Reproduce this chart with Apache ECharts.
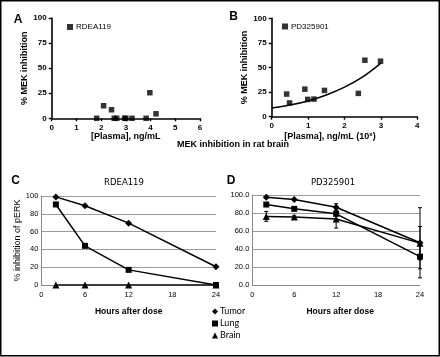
<!DOCTYPE html>
<html>
<head>
<meta charset="utf-8">
<script src="https://cdn.jsdelivr.net/npm/echarts@6/dist/echarts.min.js"></script>
<style>
html,body{margin:0;padding:0;background:#fff;}
#chart{width:440px;height:357px;}
</style>
</head>
<body>
<div id="chart"></div>
<script>
// Panel A: RDEA119 plasma concentration vs % MEK inhibition
const A_x = [1.82, 2.1, 2.42, 2.53, 2.63, 2.95, 3.0, 3.25, 3.82, 3.97, 4.22];
const A_y = [0, 12.5, 8.5, 0, 0, 0, 0, 0, 0, 25.5, 4.5];
// Panel B: PD325901 plasma concentration (log) vs % MEK inhibition
const B_x = [0.41, 0.49, 0.91, 0.99, 1.16, 1.45, 2.38, 2.56, 2.99];
const B_y = [23, 14, 28, 17.6, 17.9, 26.7, 23.7, 57.4, 56.4];
// Panel B fitted curve
const B_fit_x = [0, 0.5, 1, 1.5, 2, 2.5, 3];
const B_fit_y = [8.8, 11.8, 16, 22, 30, 40.5, 54.5];
// Panels C/D: hours after dose
const hours = [2, 6, 12, 24];
const C_tumor = [99, 89, 69.5, 20.5];
const C_lung = [90.5, 44, 17, 0];
const C_brain = [0, 0, 0, 0];
const D_tumor = [97.4, 94.9, 86.4, 46.9];
const D_lung = [89.4, 84.6, 79.1, 31.5];
const D_brain = [76.2, 75.5, 73.3, 46.5];
const D_tumor_err = [1, 1, 4, 39];
const D_lung_err = [1, 1, 2, 13.5];
const D_brain_err = [5.5, 1.5, 10, 18.5];
// tick labels
const A_xTicks = [0, 1, 2, 3, 4, 5, 6];
const AB_yTicks = [0, 25, 50, 75, 100];
const B_xTicks = [0, 1, 2, 3, 4];
const CD_xTicks = [0, 6, 12, 18, 24];
const CD_yTicks = [0, 20, 40, 60, 80, 100];

const zip = (xs, ys) => xs.map((x, i) => [x, ys[i]]);
const zip3 = (xs, ys, es) => xs.map((x, i) => [x, ys[i], es[i]]);

const chart = echarts.init(document.getElementById('chart'), null, {renderer: 'canvas'});

const AF = 'Liberation Sans, Arial, sans-serif';

function gpX(grid, min, max, ticks, name, nameGap, pad) {
  return {
    gridIndex: grid, type: 'value', min: min, max: max, interval: ticks[1] - ticks[0],
    axisLine: {show: true, onZero: false, lineStyle: {color: '#000', width: 1.6}},
    axisTick: {show: true, length: 3, lineStyle: {color: '#000', width: 1.4}},
    axisLabel: {fontFamily: AF, fontSize: 8, fontWeight: 'bold', color: '#000', margin: 5},
    splitLine: {show: false},
    name: name, nameLocation: 'middle', nameGap: nameGap,
    nameTextStyle: {fontFamily: AF, fontSize: 9, fontWeight: 'bold', color: '#000',
      verticalAlign: 'top', padding: pad || 0,
      rich: {sup: {fontFamily: AF, fontSize: 6, fontWeight: 'bold', color: '#000', verticalAlign: 'top', padding: [0, 0, 4, 0]}}}
  };
}
function gpY(grid, name) {
  return {
    gridIndex: grid, type: 'value', min: 0, max: AB_yTicks[AB_yTicks.length - 1], interval: AB_yTicks[1] - AB_yTicks[0],
    axisLine: {show: true, onZero: false, lineStyle: {color: '#000', width: 1.6}},
    axisTick: {show: true, length: 3, lineStyle: {color: '#000', width: 1.4}},
    axisLabel: {fontFamily: AF, fontSize: 8, fontWeight: 'bold', color: '#000', margin: 5},
    splitLine: {show: false},
    name: name, nameLocation: 'middle', nameGap: 22,
    nameTextStyle: {fontFamily: AF, fontSize: 9, fontWeight: 'bold', color: '#000'}
  };
}
function xlX(grid, name, pad) {
  return {
    gridIndex: grid, type: 'value', min: 0, max: CD_xTicks[CD_xTicks.length - 1], interval: CD_xTicks[1] - CD_xTicks[0],
    axisLine: {show: true, onZero: false, lineStyle: {color: '#888', width: 1}},
    axisTick: {show: false},
    axisLabel: {fontFamily: AF, fontSize: 7.5, color: '#000', margin: 6},
    splitLine: {show: false},
    name: name, nameLocation: 'middle', nameGap: 22,
    nameTextStyle: {fontFamily: AF, fontSize: 8.5, fontWeight: 'bold', color: '#000', verticalAlign: 'top', padding: pad || 0}
  };
}
function xlY(grid, name, dec) {
  return {
    gridIndex: grid, type: 'value', min: 0, max: CD_yTicks[CD_yTicks.length - 1], interval: CD_yTicks[1] - CD_yTicks[0],
    axisLine: {show: true, lineStyle: {color: '#888', width: 1}},
    axisTick: {show: false},
    axisLabel: {fontFamily: AF, fontSize: 7.5, color: '#000', margin: 3,
      formatter: v => dec ? v.toFixed(1) : String(v)},
    splitLine: {show: true, lineStyle: {color: '#9a9a9a', width: 1}},
    name: name, nameLocation: 'middle', nameGap: 16,
    nameTextStyle: {fontFamily: AF, fontSize: 9, color: '#000'}
  };
}

function lineSeries(name, xi, xs, ys, symbol, size) {
  return {
    name: name, type: 'line', xAxisIndex: xi, yAxisIndex: xi,
    data: zip(xs, ys), symbol: symbol, symbolSize: size, showSymbol: true,
    lineStyle: {color: '#000', width: 1.5}, itemStyle: {color: '#000'},
    z: 3, animation: false
  };
}
function errSeries(name, xs, ys, es) {
  return {
    name: name, type: 'custom', xAxisIndex: 3, yAxisIndex: 3,
    data: zip3(xs, ys, es), z: 2, animation: false, silent: true,
    renderItem: function (params, api) {
      const x = api.value(0), y = api.value(1), e = api.value(2);
      const hi = api.coord([x, y + e]);
      const lo = api.coord([x, y - e]);
      const w = 2;
      const st = {stroke: '#000', lineWidth: 1};
      return {type: 'group', children: [
        {type: 'line', shape: {x1: hi[0], y1: hi[1], x2: lo[0], y2: lo[1]}, style: st},
        {type: 'line', shape: {x1: hi[0] - w, y1: hi[1], x2: hi[0] + w, y2: hi[1]}, style: st},
        {type: 'line', shape: {x1: lo[0] - w, y1: lo[1], x2: lo[0] + w, y2: lo[1]}, style: st}
      ]};
    }
  };
}

const option = {
  backgroundColor: '#fff',
  animation: false,
  grid: [
    {left: 51.7, top: 18, width: 148.3, height: 100.3},
    {left: 271.7, top: 18.3, width: 145.6, height: 98.4},
    {left: 41.3, top: 196, width: 174.7, height: 89},
    {left: 252.3, top: 195, width: 167.7, height: 90}
  ],
  xAxis: [
    gpX(0, 0, 6, A_xTicks, '[Plasma], ng/mL', 14),
    gpX(1, 0, 4, B_xTicks, '[Plasma], ng/mL (10{sup|x})', 15, [0, 29, 0, 0]),
    xlX(2, 'Hours after dose'),
    xlX(3, 'Hours after dose', [0, 0, 0, 8])
  ],
  yAxis: [
    gpY(0, '% MEK inhibition'),
    gpY(1, '% MEK inhibition'),
    xlY(2, '% inhibition of pERK', false),
    xlY(3, '', true)
  ],
  legend: [
    {
      data: [{name: 'RDEA119', icon: 'rect'}], left: 67, top: 23, padding: 0,
      itemWidth: 6, itemHeight: 6, selectedMode: false,
      textStyle: {fontFamily: AF, fontSize: 8, color: '#000', padding: [0, 0, 0, -2]}
    },
    {
      data: [{name: 'PD325901', icon: 'rect'}], left: 282, top: 22.5, padding: 0,
      itemWidth: 6, itemHeight: 6, selectedMode: false,
      textStyle: {fontFamily: AF, fontSize: 8, color: '#000', padding: [0, 0, 0, -2]}
    },
    {
      data: [{name: 'Tumor', icon: 'diamond'}, {name: 'Lung', icon: 'rect'}, {name: 'Brain', icon: 'triangle'}],
      orient: 'vertical', left: 212, top: 307, itemGap: 3, padding: 0,
      itemWidth: 6, itemHeight: 6, selectedMode: false,
      textStyle: {fontFamily: 'Lato, sans-serif', fontSize: 9, color: '#000', padding: [0, 0, 0, -3]}
    }
  ],
  series: [
    {
      name: 'RDEA119', type: 'scatter', xAxisIndex: 0, yAxisIndex: 0,
      data: zip(A_x, A_y), symbol: 'rect', symbolSize: 5.5, itemStyle: {color: '#000'}, z: 5
    },
    {
      name: 'PD325901', type: 'scatter', xAxisIndex: 1, yAxisIndex: 1,
      data: zip(B_x, B_y), symbol: 'rect', symbolSize: 5.5, itemStyle: {color: '#000'}, z: 5
    },
    {
      name: 'fit', type: 'line', xAxisIndex: 1, yAxisIndex: 1,
      data: zip(B_fit_x, B_fit_y), smooth: 0.4, showSymbol: false, symbol: 'none',
      lineStyle: {color: '#000', width: 1.5}, z: 4
    },
    lineSeries('Tumor', 2, hours, C_tumor, 'diamond', 7),
    lineSeries('Lung', 2, hours, C_lung, 'rect', 6),
    lineSeries('Brain', 2, hours, C_brain, 'triangle', 7),
    errSeries('Tumor err', hours, D_tumor, D_tumor_err),
    errSeries('Lung err', hours, D_lung, D_lung_err),
    errSeries('Brain err', hours, D_brain, D_brain_err),
    lineSeries('Tumor', 3, hours, D_tumor, 'diamond', 7),
    lineSeries('Lung', 3, hours, D_lung, 'rect', 6),
    lineSeries('Brain', 3, hours, D_brain, 'triangle', 7)
  ],
  graphic: [
    {type: 'rect', shape: {x: 0.75, y: 0.75, width: 438.5, height: 355}, style: {fill: 'none', stroke: '#000', lineWidth: 1.5}, silent: true},
    {type: 'text', x: 18, y: 20, style: {text: 'A', font: 'bold 12px ' + AF, fill: '#000', align: 'center', verticalAlign: 'middle'}},
    {type: 'text', x: 233.5, y: 17, style: {text: 'B', font: 'bold 12px ' + AF, fill: '#000', align: 'center', verticalAlign: 'middle'}},
    {type: 'text', x: 15.5, y: 181, style: {text: 'C', font: 'bold 12px ' + AF, fill: '#000', align: 'center', verticalAlign: 'middle'}},
    {type: 'text', x: 231, y: 181, style: {text: 'D', font: 'bold 12px ' + AF, fill: '#000', align: 'center', verticalAlign: 'middle'}},
    {type: 'text', x: 233, y: 145, style: {text: 'MEK inhibition in rat brain', font: 'bold 9px ' + AF, fill: '#000', align: 'center', verticalAlign: 'middle'}},
    {type: 'text', x: 124, y: 183, style: {text: 'RDEA119', font: '8.5px DejaVu Sans, sans-serif', fill: '#000', align: 'center', verticalAlign: 'middle'}},
    {type: 'text', x: 333, y: 183, style: {text: 'PD325901', font: '8.5px DejaVu Sans, sans-serif', fill: '#000', align: 'center', verticalAlign: 'middle'}}
  ]
};
chart.setOption(option);
</script>
</body>
</html>
